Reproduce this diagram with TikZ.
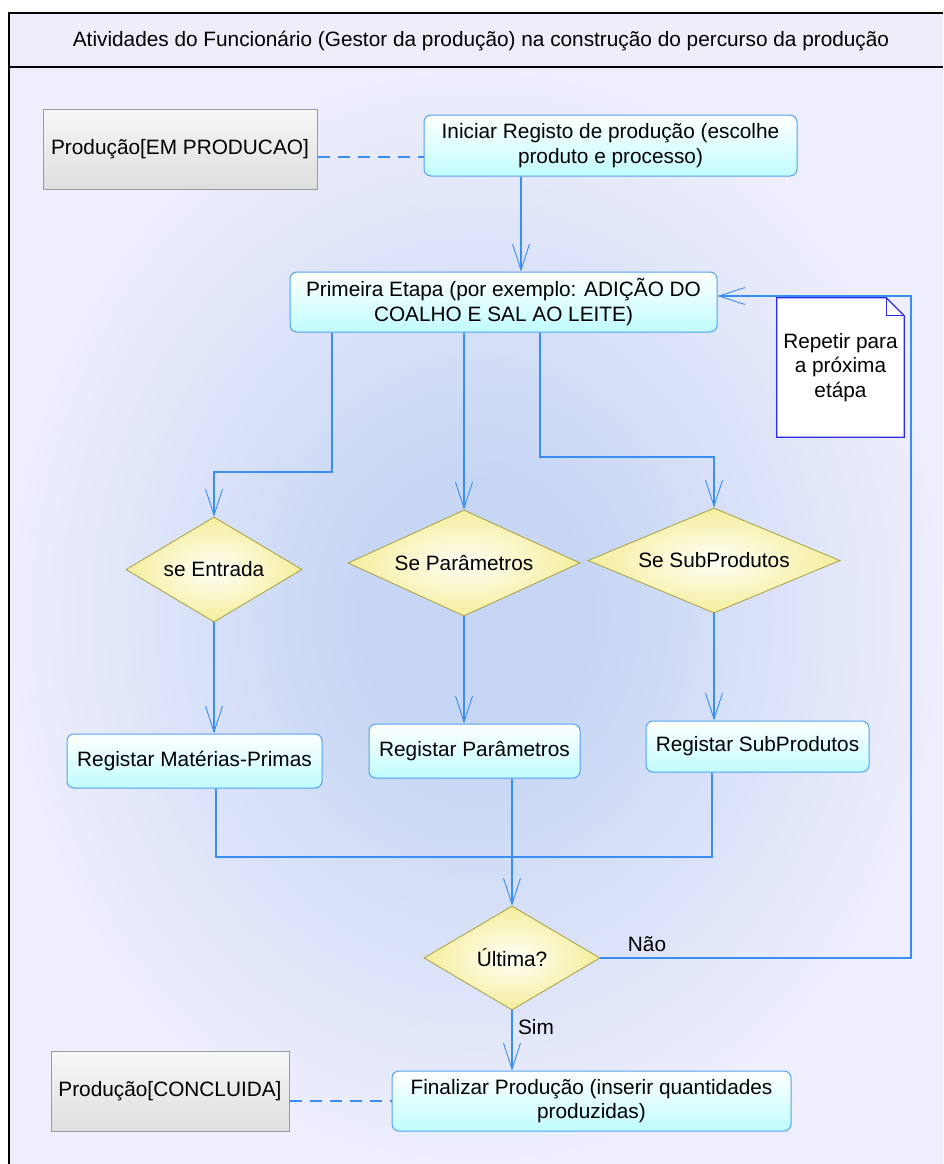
\documentclass[tikz,border=0pt]{standalone}
\usepackage{fontspec}
\setmainfont{Liberation Sans}
\usetikzlibrary{shapes.geometric,arrows.meta,calc}
\definecolor{bgin}{HTML}{C6D6F4}
\definecolor{bgout}{HTML}{EEEEFC}
\definecolor{hdr}{HTML}{EEEEFB}
\definecolor{lnblue}{HTML}{3A8EF2}
\definecolor{bxborder}{HTML}{4FA3F0}
\definecolor{cyanfill}{HTML}{C0FCFF}
\definecolor{dmborder}{HTML}{A8A040}
\definecolor{dmfill}{HTML}{F4EE9C}
\definecolor{dmin}{HTML}{FFFFF8}
\definecolor{gyborder}{HTML}{9A9A9A}
\definecolor{gyfill}{HTML}{DEDEDE}
\definecolor{noteblue}{HTML}{2B2BF0}
\pgfdeclareradialshading{bgshade}{\pgfpoint{0bp}{0bp}}{color(0bp)=(bgin); color(6bp)=(bgin); color(25bp)=(bgout); color(50bp)=(bgout)}
\pgfdeclarelayer{bglayer}
\pgfdeclarelayer{notelayer}
\pgfsetlayers{bglayer,notelayer,main}
\begin{document}
\begin{tikzpicture}[x=1pt,y=-1pt,
  every node/.style={font=\fontsize{20.8}{24.5}\selectfont, text=black},
  actbox/.style={draw=bxborder, line width=1pt, rounded corners=7pt, top color=white, bottom color=cyanfill, align=center, inner sep=0pt},
  objbox/.style={draw=gyborder, line width=1pt, top color=white!97!black, bottom color=gyfill, align=center, inner sep=0pt},
  decision/.style={diamond, aspect=2.4, draw=dmborder, line width=0.8pt, inner color=dmin, outer color=dmfill, inner sep=0pt},
  notebox/.style={inner sep=0pt, align=center},
  ln/.style={draw=lnblue, line width=1.3pt},
  arr/.style={ln, -{Straight Barb[length=26pt,width=17pt,line width=0.9pt]}},
  dashline/.style={ln, dash pattern=on 12pt off 8pt},
  frameline/.style={draw=black, line width=1.3pt},
  lbl/.style={inner sep=0pt}
]
\useasboundingbox (0,0) rectangle (943,1164);
% background and frame
\begin{pgfonlayer}{bglayer}
\fill[white] (0,0) rectangle (943,1164);
\shade[shading=bgshade] (9,67) rectangle (943,1164);
\fill[hdr] (9,13) rectangle (943,67);
\end{pgfonlayer}
\draw[frameline] (9,1164) -- (9,13) -- (943,13);
\draw[frameline] (9,67) -- (943,67);
\node[lbl] (title) at (481,41) {Atividades do Funcionário (Gestor da produção) na construção do percurso da produção};

% helper coordinates
\coordinate (c521) at (521,0);
\coordinate (c332) at (332,0);
\coordinate (c540) at (540,0);
\coordinate (c216) at (216,0);
\coordinate (c712) at (712,0);
\coordinate (c911) at (911,0);
\coordinate (r472) at (0,472);
\coordinate (r457) at (0,457);
\coordinate (r857) at (0,857);
\coordinate (r296) at (0,296);
\coordinate (r157) at (0,157);

% nodes
\node[objbox, minimum width=274pt, minimum height=80pt] (prod1) at (180,149) {Produção[EM PRODUCAO]};
\node[actbox, minimum width=373pt, minimum height=61pt] (ini) at (610.5,145.5) {Iniciar Registo de produção (escolhe\\produto e processo)};
\node[actbox, minimum width=427pt, minimum height=60pt] (prim) at (503.5,302) {Primeira Etapa (por exemplo: ADIÇÃO DO\\COALHO E SAL AO LEITE)};
\node[decision, minimum width=176pt, minimum height=105pt] (ent) at (214,569.5) {se Entrada};
\node[decision, minimum width=232pt, minimum height=106pt] (par) at (464,563) {Se Parâmetros};
\node[decision, minimum width=252pt, minimum height=105pt] (sub) at (714,560.5) {Se SubProdutos};
\node[actbox, minimum width=255pt, minimum height=54pt] (mat) at (194.5,761) {Registar Matérias-Primas};
\node[actbox, minimum width=211pt, minimum height=54pt] (rpar) at (474.5,751) {Registar Parâmetros};
\node[actbox, minimum width=223pt, minimum height=51pt] (rsub) at (757.5,746.5) {Registar SubProdutos};
\node[decision, minimum width=176pt, minimum height=104pt] (ult) at (512,958) {Última?};
\node[objbox, minimum width=238pt, minimum height=80pt] (prod2) at (170,1091) {Produção[CONCLUIDA]};
\node[actbox, minimum width=399pt, minimum height=60pt] (fin) at (591.5,1101) {Finalizar Produção (inserir quantidades\\produzidas)};

% note with folded corner
\node[notebox, minimum width=127pt, minimum height=139pt] (note) at (840.5,367.5) {Repetir para\\a próxima\\etápa};
\begin{pgfonlayer}{notelayer}
\fill[white] (note.north west) -- ($(note.north east)+(-18,0)$) -- ($(note.north east)+(0,18)$) -- (note.south east) -- (note.south west) -- cycle;
\end{pgfonlayer}
\draw[noteblue, line width=1.2pt] (note.north west) -- ($(note.north east)+(-18,0)$) -- ($(note.north east)+(0,18)$) -- (note.south east) -- (note.south west) -- cycle;
\draw[noteblue, line width=1.2pt] ($(note.north east)+(-18,0)$) |- ($(note.north east)+(0,18)$);

% connectors
\draw[dashline] (prod1.east |- r157) -- (ini.west |- r157);
\draw[arr] (ini.south -| c521) -- (prim.north -| c521);
\draw[arr] (prim.south -| c332) |- (ent.north |- r472) -- (ent.north);
\draw[arr] (prim.south -| par.north) -- (par.north);
\draw[arr] (prim.south -| c540) |- (sub.north |- r457) -- (sub.north);
\draw[arr] (ent.south) -- (mat.north -| ent.south);
\draw[arr] (par.south) -- (rpar.north -| par.south);
\draw[arr] (sub.south) -- (rsub.north -| sub.south);
\draw[ln] (mat.south -| c216) |- (ult.north |- r857);
\draw[ln] (rsub.south -| c712) |- (ult.north |- r857);
\draw[arr] (rpar.south -| ult.north) -- (ult.north);
\draw[arr] (ult.east) -| (c911 |- r296) -- (prim.east |- r296);
\draw[arr] (ult.south) -- (fin.north -| ult.south);
\draw[dashline] (prod2.east |- fin.west) -- (fin.west);
\node[lbl] (nao) at (647,944) {Não};
\node[lbl] (sim) at (536,1027) {Sim};
\end{tikzpicture}
\end{document}
